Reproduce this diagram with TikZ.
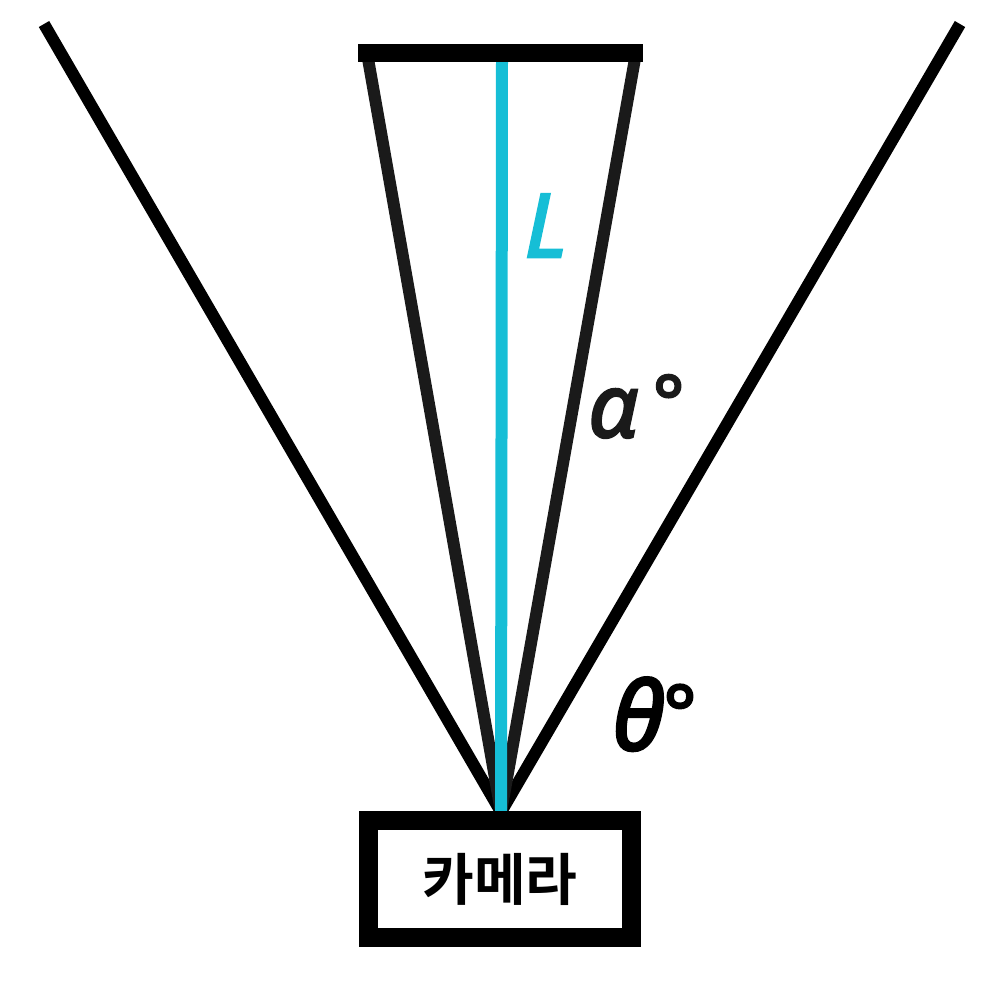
\documentclass[tikz,border=0pt]{standalone}
\usepackage{fontspec}
\setmainfont{Noto Sans}
\newfontfamily\lblfont{Noto Sans}[FakeBold=3]
\newfontfamily\kofont{Noto Sans CJK KR Bold}
\definecolor{cyanline}{HTML}{16BED6}
\definecolor{edgegray}{HTML}{1A1A1A}
\begin{document}
\begin{tikzpicture}[x=0.1mm,y=-0.1mm,
  outerline/.style={line width=1.2mm, black},
  inneredge/.style={line width=1.2mm, edgegray},
  lbl/.style={font=\lblfont\fontsize{25pt}{30pt}\selectfont\itshape, inner sep=0pt, anchor=base west, text=edgegray}]
\useasboundingbox (0,0) rectangle (1000,1000);
\coordinate (apex) at (501,812);
\coordinate (ol) at (44,24);
\coordinate (or) at (960,24);
\coordinate (il) at (367,53);
\coordinate (ir) at (636,53);
\coordinate (barl) at (358,53);
\coordinate (barr) at (643,53);
\coordinate (ctop) at (502,62);
\draw[outerline] (ol) -- (apex);
\draw[outerline] (or) -- (apex);
\draw[inneredge] (il) -- (apex);
\draw[inneredge] (ir) -- (apex);
\draw[line width=1.2mm, cyanline] (ctop) -- (apex);
\draw[line width=1.75mm, black] (barl) -- (barr);
\node[draw, fill=white, line width=1.9mm, minimum width=26.3mm, minimum height=11.75mm, inner sep=0pt,
  font=\kofont\fontsize{16pt}{20pt}\selectfont] (cam) at (500,879) {카메라};
\node[lbl, text=cyanline] (lL) at (524,257) {L};
\node[lbl] (lalpha) at (588,437) {α\,\raisebox{0.1em}{\fontsize{21pt}{24pt}\selectfont °}};
\node[lbl, text=black, font=\lblfont\fontsize{27pt}{30pt}\selectfont\itshape] (ltheta) at (612,750) {θ\raisebox{0.1em}{\fontsize{22pt}{24pt}\selectfont °}};
\end{tikzpicture}
\end{document}
